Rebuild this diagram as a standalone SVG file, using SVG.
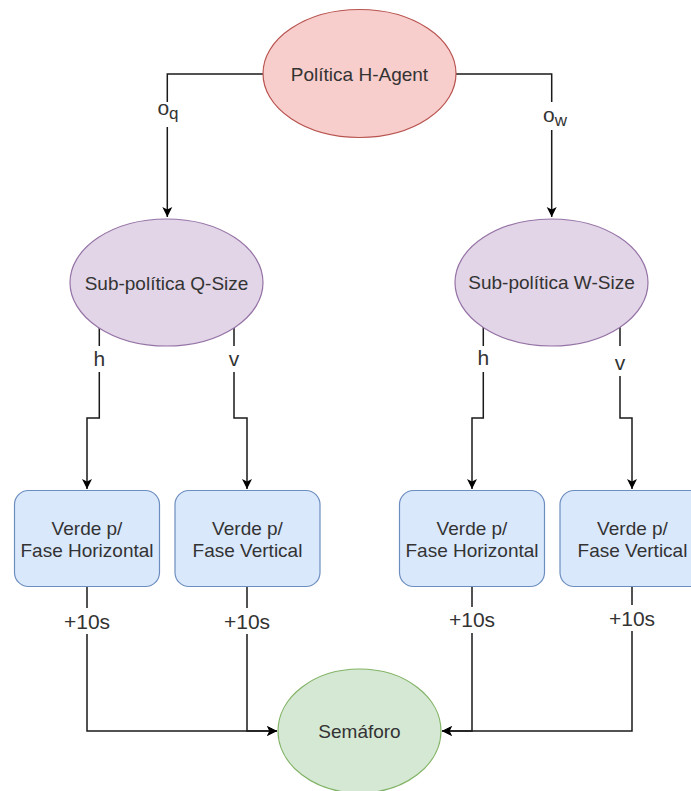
<svg xmlns="http://www.w3.org/2000/svg" width="691" height="791" viewBox="0 0 691 791">
<style>
text{font-family:"Liberation Sans",Arial,sans-serif;fill:#333333;text-anchor:middle}
.n{font-size:19px}
.l{font-size:21px}
.e{fill:none;stroke:#1a1a1a;stroke-width:1.5}
.bg{fill:#ffffff}
</style>
<defs>
<marker id="arr" markerUnits="userSpaceOnUse" markerWidth="12" markerHeight="12" refX="11" refY="6" orient="auto">
<path d="M1,1 L11,6 L1,11 L3.5,6 z" fill="#000000"/>
</marker>
</defs>
<g id="connectors">
<path class="e" d="M263,74 H167.3 V217" marker-end="url(#arr)"/>
<path class="e" d="M456,74 H551.7 V217" marker-end="url(#arr)"/>
<path class="e" d="M99.3,326 V418 H87 V489" marker-end="url(#arr)"/>
<path class="e" d="M234,326 V418 H247 V489" marker-end="url(#arr)"/>
<path class="e" d="M483.3,326 V418 H472 V489" marker-end="url(#arr)"/>
<path class="e" d="M620,326 V418 H632 V489" marker-end="url(#arr)"/>
<path class="e" d="M87,587 V731 H277" marker-end="url(#arr)"/>
<path class="e" d="M247,587 V731 H277" marker-end="url(#arr)"/>
<path class="e" d="M472,587 V731 H442" marker-end="url(#arr)"/>
<path class="e" d="M632,587 V731 H442" marker-end="url(#arr)"/>
<g id="edge-labels">
<rect class="bg" x="155" y="102" width="28" height="25"/>
<text class="l" x="168" y="115" font-size="22">o<tspan font-size="17" dy="4">q</tspan></text>
<rect class="bg" x="539" y="102" width="32" height="28"/>
<text class="l" x="555" y="122" font-size="22">o<tspan font-size="17" dy="4">w</tspan></text>
<rect class="bg" x="90" y="346" width="19" height="26"/>
<text class="l" x="99.3" y="366">h</text>
<rect class="bg" x="225" y="346" width="19" height="26"/>
<text class="l" x="234" y="366">v</text>
<rect class="bg" x="474" y="346" width="19" height="26"/>
<text class="l" x="483.3" y="365">h</text>
<rect class="bg" x="611" y="346" width="19" height="30"/>
<text class="l" x="620" y="370">v</text>
<rect class="bg" x="62" y="608" width="50" height="26"/>
<text class="l" x="87" y="629">+10s</text>
<rect class="bg" x="222" y="608" width="50" height="26"/>
<text class="l" x="247" y="629">+10s</text>
<rect class="bg" x="447" y="607" width="50" height="26"/>
<text class="l" x="472" y="627">+10s</text>
<rect class="bg" x="607" y="605" width="50" height="26"/>
<text class="l" x="632" y="626">+10s</text>
</g>
</g>
<g id="politica-h-agent">
<ellipse cx="359.5" cy="73.5" rx="96.5" ry="64" fill="#f8cecc" stroke="#b85450" stroke-width="1.2"/>
<text class="n" x="359.5" y="81">Política H-Agent</text>
</g>
<g id="sub-q-size">
<ellipse cx="166.5" cy="282.5" rx="96.5" ry="63.5" fill="#e1d5e7" stroke="#9673a6" stroke-width="1.2"/>
<text class="n" x="166.5" y="289.5">Sub-política Q-Size</text>
</g>
<g id="sub-w-size">
<ellipse cx="551.5" cy="282.5" rx="96.5" ry="63.5" fill="#e1d5e7" stroke="#9673a6" stroke-width="1.2"/>
<text class="n" x="551.5" y="289">Sub-política W-Size</text>
</g>
<g id="q-horizontal">
<rect x="14.5" y="490.5" width="145" height="96" rx="14" fill="#dae8fc" stroke="#6c8ebf" stroke-width="1.2"/>
<text class="n" x="87" y="535">Verde p/</text>
<text class="n" x="87" y="557">Fase Horizontal</text>
</g>
<g id="q-vertical">
<rect x="175" y="490.5" width="145" height="96" rx="14" fill="#dae8fc" stroke="#6c8ebf" stroke-width="1.2"/>
<text class="n" x="247.5" y="535">Verde p/</text>
<text class="n" x="247.5" y="557">Fase Vertical</text>
</g>
<g id="w-horizontal">
<rect x="399.5" y="490.5" width="145" height="96" rx="14" fill="#dae8fc" stroke="#6c8ebf" stroke-width="1.2"/>
<text class="n" x="472" y="535">Verde p/</text>
<text class="n" x="472" y="557">Fase Horizontal</text>
</g>
<g id="w-vertical">
<rect x="560" y="490.5" width="145" height="96" rx="14" fill="#dae8fc" stroke="#6c8ebf" stroke-width="1.2"/>
<text class="n" x="632.5" y="535">Verde p/</text>
<text class="n" x="632.5" y="557">Fase Vertical</text>
</g>
<g id="semaforo">
<ellipse cx="359.5" cy="731" rx="81.5" ry="62" fill="#d5e8d4" stroke="#82b366" stroke-width="1.2"/>
<text class="n" x="359.5" y="738">Semáforo</text>
</g>
</svg>
